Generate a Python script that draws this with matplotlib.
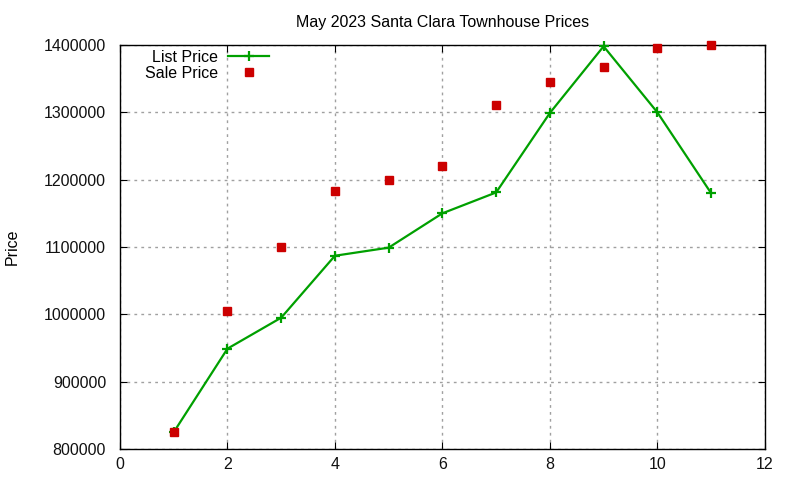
import matplotlib
matplotlib.use('Agg')
import matplotlib.pyplot as plt

plt.rcParams['font.family'] = ['Liberation Sans', 'DejaVu Sans']

# data
months = [1, 2, 3, 4, 5, 6, 7, 8, 9, 10, 11]
list_price = [825000, 949000, 995000, 1087000, 1099000, 1150000,
              1181000, 1299000, 1398000, 1300000, 1180000]
sale_price = [825000, 1005000, 1100000, 1183000, 1200000, 1220000,
              1311000, 1345000, 1368000, 1396000, 1400000]

fig = plt.figure(figsize=(8, 4.8), dpi=100)
ax = fig.add_axes([0.15, 0.0646, 0.806, 0.8417])

ax.plot(months, list_price, color='#00a000', lw=1.6, marker='+',
        ms=7, mew=1.6, label='List Price', clip_on=False, zorder=3)
ax.plot(months, sale_price, color='#cc0000', ls='none', marker='s',
        ms=5.6, label='Sale Price', clip_on=False, zorder=4)

ax.set_xlim(0, 12)
ax.set_ylim(800000, 1400000)
ax.set_xticks(range(0, 13, 2))
ax.set_yticks(range(800000, 1400001, 100000))
ax.ticklabel_format(axis='y', style='plain', useOffset=False)

ax.grid(True, color='#a0a0a0', ls=(0, (2, 3)), lw=1)
ax.tick_params(direction='in', top=True, right=True, labelsize=11.5,
               length=5, labelcolor='#111111')
ax.tick_params(axis='y', pad=10)
ax.tick_params(axis='x', pad=6)
for s in ax.spines.values():
    s.set_linewidth(1)

ax.set_title('May 2023 Santa Clara Townhouse Prices', fontsize=11.5, pad=13)
ax.set_ylabel('Price', fontsize=11.5, va='center')
ax.yaxis.set_label_coords(-0.167, 0.5)

ax.legend(loc='upper left', bbox_to_anchor=(0.024, 1.012), frameon=False,
          markerfirst=False, fontsize=11.5, handlelength=2.6,
          labelspacing=0.05, borderaxespad=0.2, handletextpad=0.6)
leg = ax.get_legend()
for t in leg.get_texts():
    t.set_ha('right')

fig.savefig('out.png', dpi=100)
